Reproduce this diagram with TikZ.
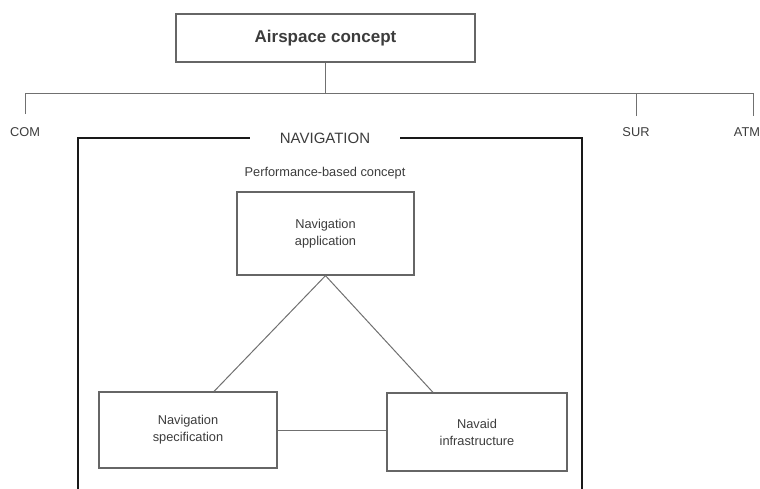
\documentclass[tikz,border=0pt]{standalone}
\usepackage{fontspec}
\setmainfont{Liberation Sans}
\definecolor{ink}{HTML}{3C3C3C}
\definecolor{edge}{HTML}{666666}
\definecolor{wire}{HTML}{707070}
\begin{document}
\begin{tikzpicture}[x=1pt,y=-1pt,
  box/.style={draw=edge,line width=1.3pt,text=ink,align=center,inner sep=0pt,
    font=\fontsize{12.8}{17}\selectfont},
  lbl/.style={text=ink,inner sep=0pt,font=\fontsize{12.8}{15}\selectfont},
  wirestyle/.style={draw=wire,line width=1pt},
  frame/.style={draw=black!90,line width=1.8pt}]
\useasboundingbox (0,0) rectangle (760,488);

% top level concept and its branches
\node[box,minimum width=299pt,minimum height=48pt,
  font=\fontsize{17}{20}\selectfont\bfseries] (air) at (325.5,38) {Airspace concept};
\coordinate (bus) at (325.5,93);
\coordinate (comtop) at (25,114);
\coordinate (surtop) at (636,116);
\coordinate (atmtop) at (753,116);
\node[lbl] (com) at (25,132) {COM};
\node[lbl] (sur) at (636,132) {SUR};
\node[lbl] (atm) at (747,132) {ATM};
\draw[wirestyle] (air.south) -- (bus);
\draw[wirestyle] (comtop) -- (comtop |- bus) -- (atmtop |- bus) -- (atmtop);
\draw[wirestyle] (surtop) -- (surtop |- bus);

% navigation frame, open at the bottom
\node[lbl,minimum width=150pt,font=\fontsize{15}{18}\selectfont] (navt) at (325,138) {NAVIGATION};
\draw[frame] (navt.west) -- ++(-172,0) -- ++(0,352);
\draw[frame] (navt.east) -- ++(182,0) -- ++(0,352);
\node[lbl] (pbc) at (325,173) {Performance-based concept};

% performance-based navigation triangle
\node[box,minimum width=177pt,minimum height=83pt] (app) at (325.5,233.5) {Navigation\\application};
\node[box,minimum width=178pt,minimum height=76pt] (spec) at (188,430) {Navigation\\specification};
\node[box,minimum width=180pt,minimum height=78pt] (infra) at (477,432) {Navaid\\infrastructure};
\draw[wirestyle] (app.south) -- (spec.56);
\draw[wirestyle] (app.south) -- (infra.138);
\draw[wirestyle] (spec.east) -- (spec.east -| infra.west);
\end{tikzpicture}
\end{document}
